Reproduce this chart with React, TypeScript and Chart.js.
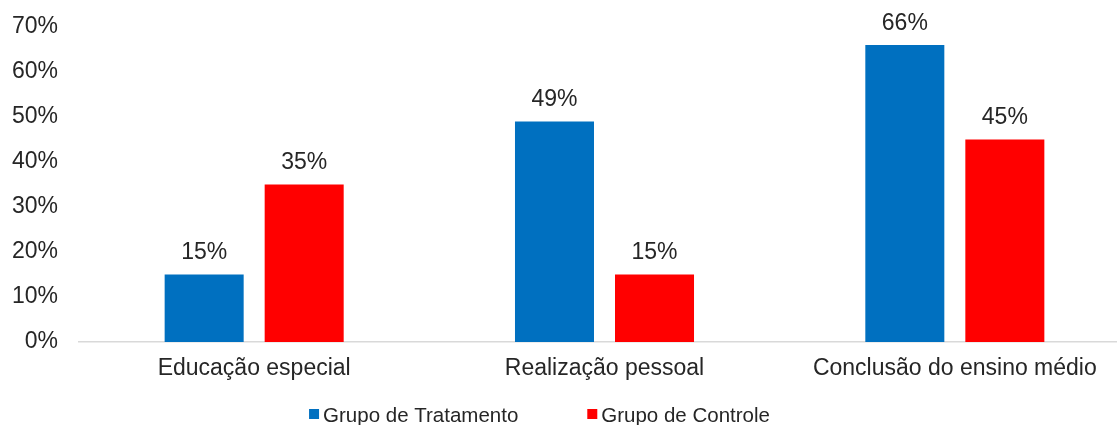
import React, { useEffect, useRef } from 'react';
import { Chart, registerables } from 'chart.js';

Chart.register(...registerables);

const categories = ['Educação especial', 'Realização pessoal', 'Conclusão do ensino médio'];
const seriesNames = ['Grupo de Tratamento', 'Grupo de Controle'];
const treatment = [15, 49, 66];
const control = [35, 15, 45];
const seriesColors = ['#0070C0', '#FF0000'];
const yMin = 0;
const yMax = 70;
const yStep = 10;

const FONT = "'Liberation Sans', Arial, sans-serif";
const TEXT = '#262626';
const FS = 23;
const LEGEND_FS = 20.5;

const valueLabels = {
  id: 'valueLabels',
  afterDatasetsDraw(chart: any) {
    const ctx = chart.ctx;
    ctx.save();
    ctx.font = `${FS}px ${FONT}`;
    ctx.fillStyle = TEXT;
    ctx.textAlign = 'center';
    ctx.textBaseline = 'alphabetic';
    chart.data.datasets.forEach((ds: any, i: number) => {
      chart.getDatasetMeta(i).data.forEach((bar: any, j: number) => {
        ctx.fillText(`${ds.data[j]}%`, bar.x, bar.y - 15.5);
      });
    });
    ctx.restore();
  },
};

const bottomLegend = {
  id: 'bottomLegend',
  afterDraw(chart: any) {
    const ctx = chart.ctx;
    ctx.save();
    ctx.font = `${LEGEND_FS}px ${FONT}`;
    ctx.textBaseline = 'alphabetic';
    ctx.textAlign = 'left';
    const box = 10;
    const gapText = 4;
    const gapItem = 69;
    const items = chart.data.datasets.map((ds: any) => ({
      text: ds.label,
      color: ds.backgroundColor,
      w: ctx.measureText(ds.label).width,
    }));
    const total =
      items.reduce((s: number, it: any) => s + box + gapText + it.w, 0) + gapItem * (items.length - 1);
    let x = 539.5 - total / 2;
    const baseline = 421.5;
    items.forEach((it: any) => {
      ctx.fillStyle = it.color;
      ctx.fillRect(x, 409, box, box);
      ctx.fillStyle = TEXT;
      ctx.fillText(it.text, x + box + gapText, baseline);
      x += box + gapText + it.w + gapItem;
    });
    ctx.restore();
  },
};

export default function App() {
  const ref = useRef<HTMLCanvasElement | null>(null);

  useEffect(() => {
    if (!ref.current) return;
    const chart = new Chart(ref.current, {
      type: 'bar',
      data: {
        labels: categories,
        datasets: [
          {
            label: seriesNames[0],
            data: treatment,
            backgroundColor: seriesColors[0],
            categoryPercentage: 0.571,
            barPercentage: 0.79,
          },
          {
            label: seriesNames[1],
            data: control,
            backgroundColor: seriesColors[1],
            categoryPercentage: 0.571,
            barPercentage: 0.79,
          },
        ],
      },
      options: {
        responsive: false,
        animation: false,
        devicePixelRatio: 1,
        layout: { padding: { top: 27, left: 0, right: 0, bottom: 38 } },
        plugins: {
          legend: { display: false },
          tooltip: { enabled: false },
          title: { display: false },
        },
        scales: {
          x: {
            grid: { display: false, drawTicks: false },
            border: { display: true, color: '#D9D9D9', width: 1.5 },
            ticks: {
              color: TEXT,
              font: { family: FONT, size: FS },
              padding: 13,
              maxRotation: 0,
              autoSkip: false,
            },
            afterFit(scale: any) {
              scale.height = 45;
            },
          },
          y: {
            min: yMin,
            max: yMax,
            grid: { display: false, drawTicks: false },
            border: { display: false },
            ticks: {
              stepSize: yStep,
              color: TEXT,
              font: { family: FONT, size: FS },
              padding: 21,
              callback: (v: any) => `${v}%`,
            },
            afterFit(scale: any) {
              scale.width = 79;
              scale.paddingTop = 0;
              scale.paddingBottom = 0;
            },
          },
        },
      },
      plugins: [valueLabels, bottomLegend],
    });
    return () => chart.destroy();
  }, []);

  return (
    <div
      style={{
        position: 'fixed',
        left: 0,
        top: 0,
        width: 1117,
        height: 425,
        overflow: 'hidden',
        background: '#fff',
      }}
    >
      <canvas ref={ref} width={1130} height={425} style={{ display: 'block' }} />
    </div>
  );
}
